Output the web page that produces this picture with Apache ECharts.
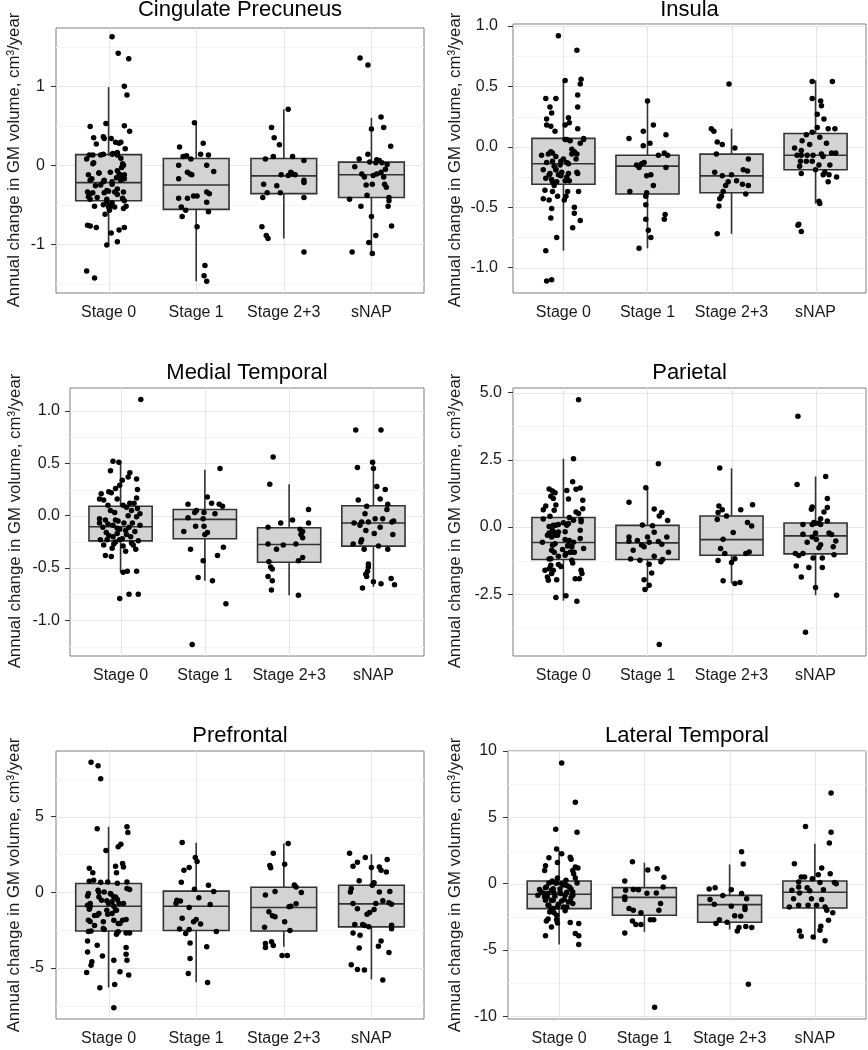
<!DOCTYPE html>
<html lang="en">
<head>
<meta charset="UTF-8">
<title>Annual change in GM volume by stage</title>
<script src="https://cdn.jsdelivr.net/npm/echarts/dist/echarts.min.js"></script>
<style>
  html, body { margin: 0; padding: 0; background: #fff; }
  #chart { width: 868px; height: 1050px; }
</style>
</head>
<body>
<div id="chart"></div>
<script>
var categories = ['Stage 0', 'Stage 1', 'Stage 2+3', 'sNAP'];

// box stats per group: [lower whisker, Q1, median, Q3, upper whisker]
var cingBox = [[-1.01, -0.45, -0.22, 0.135, 0.99], [-1.47, -0.56, -0.25, 0.085, 0.54], [-0.93, -0.36, -0.135, 0.085, 0.71], [-1.12, -0.41, -0.12, 0.04, 0.6]];
var insulaBox = [[-0.86, -0.31, -0.14, 0.07, 0.55], [-0.84, -0.39, -0.16, -0.07, 0.38], [-0.72, -0.38, -0.24, -0.06, 0.15], [-0.47, -0.19, -0.07, 0.11, 0.55]];
var medialBox = [[-0.54, -0.24, -0.105, 0.09, 0.52], [-0.62, -0.22, -0.035, 0.06, 0.44], [-0.76, -0.445, -0.275, -0.115, 0.3], [-0.68, -0.29, -0.07, 0.095, 0.5]];
var parietalBox = [[-2.74, -1.21, -0.58, 0.35, 2.54], [-2.33, -1.21, -0.59, 0.06, 1.46], [-2.1, -1.05, -0.47, 0.41, 2.18], [-2.54, -1.0, -0.33, 0.15, 1.88]];
var prefrontalBox = [[-6.3, -2.56, -0.93, 0.57, 4.32], [-5.95, -2.53, -0.93, 0.07, 3.26], [-3.6, -2.56, -1.01, 0.33, 3.22], [-5.77, -2.29, -0.77, 0.46, 2.51]];
var lateralBox = [[-4.59, -1.88, -0.8, 0.2, 2.5], [-3.63, -2.38, -1.03, -0.3, 1.58], [-3.46, -2.91, -1.58, -0.88, 1.45], [-4.21, -1.83, -0.65, 0.2, 3.01]];

// jittered subjects: [horizontal jitter, annual change]
var cingS0 = [[0.04,1.63],[0.11,1.42],[0.23,1.35],[0.18,1.0],[0.21,0.89],[-0.21,0.49],[-0.03,0.53],[0.18,0.5],[0.24,0.43],[-0.17,0.35],[-0.06,0.36],[-0.05,0.34],[0.03,0.34],[-0.14,0.27],[0.08,0.29],[0.12,0.28],[0.14,0.29],[0.19,0.21],[-0.22,0.13],[-0.18,0.13],[-0.09,0.13],[-0.06,0.14],[0.05,0.15],[0.1,0.13],[0.14,0.09],[-0.25,0.08],[-0.18,0.02],[0.17,0.0],[0.15,-0.03],[-0.23,-0.12],[-0.11,-0.1],[0.02,-0.09],[0.12,-0.11],[0.18,-0.12],[-0.21,-0.19],[-0.06,-0.21],[0.09,-0.16],[0.14,-0.19],[0.18,-0.17],[0.04,-0.24],[-0.09,-0.25],[-0.24,-0.34],[-0.21,-0.36],[-0.18,-0.35],[-0.05,-0.35],[0,-0.33],[0.07,-0.34],[0.1,-0.37],[-0.23,-0.4],[-0.13,-0.41],[-0.21,-0.43],[-0.02,-0.43],[0.18,-0.45],[0.16,-0.42],[0.04,-0.48],[-0.16,-0.52],[-0.06,-0.5],[0.02,-0.52],[0.07,-0.53],[0.2,-0.52],[-0.04,-0.62],[0.01,-0.57],[-0.24,-0.76],[-0.21,-0.77],[-0.14,-0.79],[0.18,-0.79],[0.12,-0.82],[0.03,-0.86],[-0.02,-1.01],[0.1,-0.97],[-0.25,-1.34],[-0.16,-1.43],
  [0.04,0.14],[0.1,0.16],[-0.17,0.03],[0.16,0.02],[-0.11,-0.1],[0.1,-0.07],[0.14,-0.13],[-0.19,-0.17],[-0.05,-0.19],[0.04,-0.21],[-0.15,-0.26],[-0.02,-0.32],[0.1,-0.3],[0.17,-0.34],[-0.02,-0.47],[0,-0.53],[0.17,-0.55]];
var cingS1 = [[-0.02,0.54],[0.08,0.28],[-0.19,0.23],[0.05,0.14],[0.14,0.13],[-0.15,0.11],[-0.11,0.12],[-0.06,0.08],[-0.2,0.0],[0.12,0.0],[0.2,-0.08],[-0.1,-0.09],[-0.07,-0.11],[-0.05,-0.12],[-0.2,-0.17],[0.12,-0.34],[0.15,-0.36],[-0.03,-0.39],[0.01,-0.39],[-0.2,-0.42],[-0.1,-0.42],[0.12,-0.47],[-0.17,-0.53],[-0.12,-0.57],[0.14,-0.59],[-0.16,-0.65],[0.01,-0.78],[0.1,-1.27],[0.09,-1.4],[0.12,-1.47]];
var cingS2 = [[0.05,0.71],[-0.14,0.48],[-0.11,0.35],[-0.05,0.26],[-0.21,0.08],[-0.12,0.11],[0.1,0.11],[0.23,0.06],[-0.03,-0.12],[0.08,-0.09],[0.1,-0.11],[0.05,-0.13],[0.13,-0.12],[-0.23,-0.24],[0.23,-0.19],[0.23,-0.22],[-0.19,-0.35],[-0.08,-0.26],[-0.04,-0.35],[-0.24,-0.41],[0.23,-0.41],[-0.25,-0.78],[-0.2,-0.89],[-0.18,-0.93],[0.23,-1.1]];
var cingSnap = [[-0.13,1.36],[-0.04,1.27],[0.11,0.61],[0.14,0.48],[0,0.46],[0.22,0.24],[-0.04,0.14],[-0.14,0.08],[0.06,0.07],[0.09,0.06],[-0.02,0.04],[0.18,0.01],[-0.19,-0.02],[0.05,0.03],[0.12,0.03],[-0.11,-0.11],[-0.08,-0.15],[0.02,-0.13],[0.06,-0.11],[0.11,-0.09],[0.14,-0.15],[0.16,-0.05],[-0.06,-0.25],[0.01,-0.24],[0.15,-0.24],[0.17,-0.28],[-0.05,-0.38],[0.2,-0.41],[-0.25,-0.43],[0.2,-0.45],[-0.12,-0.52],[0.19,-0.52],[0,-0.65],[0.23,-0.77],[0.05,-0.89],[-0.03,-0.98],[-0.22,-1.1],[0.01,-1.12]];

var insulaS0 = [[-0.06,0.92],[0.16,0.8],[0.02,0.55],[0.21,0.56],[0.2,0.52],[0.17,0.43],[-0.21,0.4],[-0.09,0.4],[0.17,0.33],[-0.16,0.33],[-0.14,0.28],[0.06,0.24],[-0.2,0.23],[0.07,0.2],[-0.2,0.18],[-0.15,0.17],[0.02,0.18],[-0.1,0.13],[0.17,0.15],[0.24,0.07],[0.04,0.06],[0.08,0.05],[0.2,0.03],[0.1,-0.02],[0.13,-0.04],[0.16,-0.06],[-0.15,-0.04],[-0.18,-0.06],[-0.26,-0.07],[-0.09,-0.08],[0,-0.1],[0.15,-0.1],[-0.2,-0.13],[-0.13,-0.12],[-0.03,-0.12],[-0.11,-0.16],[0.06,-0.14],[-0.24,-0.19],[-0.09,-0.19],[-0.16,-0.22],[0.17,-0.22],[-0.06,-0.23],[-0.03,-0.24],[-0.21,-0.26],[-0.14,-0.27],[0.04,-0.25],[0.07,-0.28],[-0.08,-0.29],[-0.11,-0.32],[-0.22,-0.36],[-0.13,-0.37],[0.05,-0.37],[0.18,-0.37],[-0.07,-0.41],[0.03,-0.41],[-0.24,-0.43],[-0.17,-0.44],[0.01,-0.44],[-0.14,-0.51],[0.13,-0.5],[0.13,-0.55],[0.2,-0.61],[-0.15,-0.59],[0.11,-0.67],[-0.08,-0.75],[-0.21,-0.86],[-0.2,-1.11],[-0.14,-1.1],
  [-0.13,-0.05],[0.1,-0.06],[0.24,0.06],[0.02,0.06],[-0.04,-0.15],[0.04,-0.13],[-0.09,-0.19],[-0.02,-0.21],[0.06,-0.22],[-0.17,-0.23],[0.02,-0.28],[-0.13,-0.29],[0.16,-0.21]];
var insulaS1 = [[0,0.38],[0.07,0.18],[-0.05,0.13],[-0.22,0.07],[0.22,0.1],[-0.05,0.01],[0.03,0.03],[0.13,-0.07],[0.2,-0.05],[0.24,-0.07],[-0.04,-0.13],[-0.07,-0.14],[-0.13,-0.15],[-0.1,-0.17],[0.22,-0.17],[0.04,-0.23],[-0.01,-0.24],[0.07,-0.32],[-0.21,-0.37],[-0.01,-0.38],[-0.02,-0.41],[-0.02,-0.48],[0.21,-0.56],[0.2,-0.6],[-0.02,-0.6],[0.01,-0.69],[0.04,-0.75],[-0.1,-0.84]];
var insulaS2 = [[-0.03,0.52],[-0.24,0.15],[-0.21,0.13],[-0.17,0.04],[-0.11,0.02],[0.04,-0.01],[-0.18,-0.06],[0.2,-0.1],[-0.2,-0.21],[0.14,-0.19],[0.19,-0.2],[-0.11,-0.24],[0,-0.23],[-0.04,-0.29],[0.06,-0.28],[-0.07,-0.32],[0.13,-0.31],[0.2,-0.32],[0.17,-0.39],[-0.1,-0.37],[-0.14,-0.43],[-0.12,-0.41],[-0.15,-0.49],[-0.17,-0.72]];
var insulaSnap = [[-0.04,0.54],[0.2,0.54],[-0.04,0.4],[0.06,0.38],[0.07,0.34],[0.02,0.27],[0.1,0.23],[0.02,0.16],[0.15,0.15],[0.23,0.15],[-0.04,0.12],[-0.11,0.1],[-0.16,0.05],[-0.07,0.02],[0.05,0.08],[0.13,0.03],[-0.25,-0.01],[-0.17,-0.03],[-0.22,-0.07],[-0.17,-0.07],[-0.1,-0.07],[-0.03,-0.07],[0.07,-0.06],[0.19,-0.05],[0.24,-0.05],[0.09,-0.08],[-0.18,-0.12],[-0.11,-0.12],[-0.04,-0.12],[-0.19,-0.16],[0.04,-0.15],[0.17,-0.15],[0,-0.19],[0.11,-0.21],[-0.17,-0.22],[0.16,-0.23],[0.09,-0.23],[0.25,-0.25],[0.15,-0.29],[0.04,-0.45],[0.05,-0.47],[-0.2,-0.64],[-0.21,-0.65],[-0.17,-0.7]];

var medialS0 = [[0.24,1.11],[-0.09,0.52],[-0.02,0.51],[-0.12,0.43],[0.11,0.41],[0.09,0.37],[0.02,0.34],[0.19,0.35],[-0.01,0.29],[-0.06,0.26],[-0.14,0.23],[0.2,0.25],[-0.23,0.21],[-0.11,0.22],[-0.25,0.16],[-0.2,0.15],[-0.04,0.16],[0.19,0.17],[0.11,0.12],[0.16,0.12],[-0.15,0.1],[0.03,0.1],[0.07,0.08],[0.2,0.07],[0.13,0.05],[-0.12,0.05],[-0.07,0.03],[0.23,0.02],[0.19,-0.01],[-0.25,-0.03],[-0.06,-0.04],[0.04,-0.07],[0.14,-0.07],[-0.25,-0.07],[-0.15,-0.08],[-0.09,-0.09],[0.23,-0.09],[-0.21,-0.11],[0.1,-0.11],[-0.01,-0.13],[0.17,-0.15],[-0.17,-0.16],[-0.04,-0.17],[0.07,-0.18],[-0.09,-0.2],[-0.24,-0.23],[-0.16,-0.23],[-0.01,-0.23],[0.21,-0.24],[-0.06,-0.25],[0.13,-0.26],[-0.2,-0.28],[0.03,-0.29],[-0.1,-0.31],[0.18,-0.32],[0.06,-0.34],[-0.18,-0.38],[-0.11,-0.39],[0.03,-0.54],[0.08,-0.53],[0.19,-0.53],[-0.01,-0.79],[0.1,-0.75],[0.21,-0.75],
  [-0.04,-0.12],[0.06,-0.14],[-0.14,-0.19],[0.12,-0.2],[0.02,-0.22],[-0.08,-0.27],[0.15,-0.28],[-0.03,-0.05],[0.09,0.0],[-0.18,-0.04]];
var medialS1 = [[0.18,0.45],[0.03,0.18],[-0.2,0.11],[0.08,0.12],[0.17,0.11],[0.21,0.09],[-0.1,0.05],[-0.12,0.03],[-0.01,0.03],[0.12,0.02],[-0.2,-0.02],[-0.02,-0.03],[-0.11,-0.1],[-0.01,-0.1],[-0.25,-0.15],[0.03,-0.16],[0,-0.18],[0.22,-0.3],[-0.17,-0.32],[0.15,-0.38],[-0.02,-0.43],[-0.08,-0.59],[0.09,-0.62],[0.25,-0.84],[-0.15,-1.23]];
var medialS2 = [[-0.19,0.56],[-0.23,0.3],[0.23,0.06],[0.04,-0.04],[-0.1,-0.07],[0.23,-0.07],[-0.25,-0.11],[0.13,-0.13],[0.16,-0.15],[0.14,-0.18],[0.16,-0.21],[-0.25,-0.27],[-0.07,-0.28],[0.08,-0.27],[-0.15,-0.32],[0.16,-0.4],[0.11,-0.43],[-0.24,-0.44],[-0.22,-0.49],[-0.2,-0.51],[-0.25,-0.58],[-0.2,-0.62],[-0.21,-0.71],[0.11,-0.76]];
var medialSnap = [[-0.21,0.82],[0.09,0.82],[-0.01,0.51],[-0.19,0.46],[0,0.45],[0.04,0.28],[0.14,0.25],[-0.18,0.15],[0.08,0.16],[0.17,0.11],[-0.08,0.09],[0.16,0.06],[-0.1,0.02],[0.02,-0.03],[0.11,-0.03],[0.24,-0.05],[-0.23,-0.07],[-0.14,-0.06],[-0.06,-0.06],[0.22,-0.06],[-0.16,-0.09],[0.08,-0.11],[-0.09,-0.14],[0.01,-0.17],[0.23,-0.18],[-0.14,-0.23],[-0.15,-0.25],[-0.24,-0.27],[0.06,-0.29],[-0.11,-0.32],[0.17,-0.32],[-0.06,-0.46],[-0.06,-0.49],[-0.07,-0.53],[-0.09,-0.56],[-0.08,-0.58],[0.21,-0.6],[0,-0.63],[0.09,-0.65],[0.25,-0.66],[-0.13,-0.69]];

var parietalS0 = [[0.18,4.73],[0.12,2.54],[0.11,1.68],[-0.17,1.41],[-0.13,1.34],[-0.1,1.27],[0.04,1.36],[0.15,1.4],[0.2,1.45],[-0.15,1.14],[-0.12,1.06],[0.06,1.04],[0.23,0.99],[-0.21,0.78],[-0.09,0.82],[0.23,0.68],[-0.24,0.64],[-0.11,0.62],[0.15,0.56],[0.18,0.5],[-0.16,0.4],[-0.24,0.3],[0.07,0.35],[0.12,0.25],[0.21,0.28],[0,0.16],[-0.06,0.09],[-0.17,0.02],[-0.12,0.06],[0.21,0.19],[0.04,0.06],[-0.12,-0.19],[-0.17,-0.22],[-0.06,-0.19],[-0.09,-0.31],[-0.14,-0.37],[0.2,-0.43],[0.02,-0.47],[0.07,-0.5],[-0.25,-0.57],[-0.1,-0.62],[0.12,-0.57],[0.05,-0.71],[0.1,-0.74],[0.24,-0.8],[-0.01,-0.84],[-0.14,-0.87],[0.08,-0.94],[0.13,-0.94],[0.03,-0.99],[-0.11,-0.94],[-0.06,-1.09],[-0.17,-1.19],[0.1,-1.24],[0.11,-1.34],[-0.15,-1.42],[-0.06,-1.4],[-0.03,-1.47],[-0.17,-1.55],[-0.22,-1.61],[-0.12,-1.61],[0.21,-1.61],[0.22,-1.73],[-0.14,-1.73],[-0.19,-1.86],[-0.18,-1.98],[-0.08,-1.96],[0.14,-1.93],[0.19,-1.93],[-0.09,-2.62],[0.03,-2.56],[0.16,-2.76],
  [-0.09,0.06],[-0.13,-0.12],[0.02,-0.18],[-0.19,-0.31],[-0.07,-0.31],[0.06,0.13],[0.2,-0.12],[-0.13,-0.68],[0.06,-0.68],[0.1,-0.93],[0.02,-1.05],[-0.15,-1.18]];
var parietalS1 = [[0.13,2.35],[-0.02,1.46],[-0.22,0.92],[0.08,0.67],[0.17,0.54],[0.14,0.41],[0.24,0.24],[-0.06,0.07],[0.06,0.05],[0.08,-0.2],[0,-0.37],[0.23,-0.37],[-0.22,-0.37],[-0.12,-0.5],[-0.22,-0.53],[0.02,-0.57],[0.13,-0.54],[-0.07,-0.67],[-0.04,-0.74],[0.17,-0.64],[-0.17,-0.87],[0.25,-0.94],[0.08,-1.09],[0.18,-1.21],[0.16,-1.29],[-0.2,-1.19],[-0.09,-1.24],[0.02,-1.39],[0.05,-1.71],[-0.04,-1.96],[0.02,-2.17],[-0.03,-2.33],[0.14,-4.37]];
var parietalS2 = [[-0.14,2.19],[-0.15,0.78],[-0.11,0.64],[0.25,0.83],[0.11,0.64],[-0.16,0.54],[-0.06,0.41],[-0.17,0.28],[0.19,0.17],[0.24,0.04],[0.02,-0.21],[-0.1,-0.46],[-0.13,-0.8],[-0.08,-0.99],[0.21,-0.93],[0.17,-0.99],[0.04,-1.18],[-0.16,-1.25],[0,-1.32],[-0.1,-2.0],[0.04,-2.1],[0.1,-2.07]];
var parietalSnap = [[-0.21,4.12],[0.12,1.88],[-0.22,1.58],[0.14,1.06],[-0.04,0.74],[0.14,0.72],[-0.05,0.66],[0.1,0.56],[0.06,0.31],[0.14,0.22],[-0.02,0.17],[-0.15,0.09],[0,0.14],[0.04,0.15],[0.06,0.09],[-0.04,0.09],[0.16,-0.22],[0.19,-0.28],[-0.15,-0.27],[0,-0.22],[-0.1,-0.57],[0.01,-0.47],[-0.04,-0.37],[0.24,-0.52],[0.06,-0.66],[0.04,-0.77],[0.21,-0.74],[-0.24,-0.99],[-0.15,-0.99],[-0.2,-1.06],[0.22,-1.03],[-0.03,-1.15],[0.08,-1.15],[-0.23,-1.45],[-0.08,-1.51],[0.08,-1.51],[-0.17,-1.86],[0,-2.25],[0.25,-2.54],[-0.12,-3.92]];

var prefrontalS0 = [[-0.2,8.59],[-0.12,8.35],[-0.09,7.49],[-0.13,4.19],[0.21,4.32],[0.22,3.94],[-0.03,2.75],[0.14,3.17],[0.11,3.0],[0.16,1.89],[0.08,1.72],[0.17,1.67],[-0.22,1.59],[0.09,1.28],[-0.18,1.28],[-0.22,0.73],[-0.17,0.79],[-0.09,0.66],[-0.01,0.68],[0.1,0.59],[0.21,0.68],[0.21,0.24],[0.24,0.18],[-0.12,0.13],[-0.05,0.02],[-0.24,-0.26],[-0.11,-0.31],[0.03,-0.13],[0.06,-0.31],[-0.08,-0.53],[-0.02,-0.57],[0.04,-0.64],[0.1,-0.48],[0.12,-0.75],[-0.24,-0.86],[-0.21,-0.97],[-0.22,-1.12],[0.06,-0.93],[0.08,-1.19],[-0.11,-1.41],[-0.01,-1.45],[-0.16,-1.54],[-0.23,-1.85],[-0.21,-1.94],[0.06,-1.85],[0.16,-1.85],[0.2,-1.81],[-0.16,-2.2],[0.13,-2.07],[-0.05,-2.47],[-0.23,-2.6],[-0.2,-2.56],[0.09,-2.78],[0.1,-2.67],[0.2,-2.69],[0.24,-2.69],[-0.24,-3.22],[-0.13,-3.5],[0.2,-3.66],[-0.24,-3.96],[0.2,-4.1],[-0.07,-4.21],[-0.19,-4.6],[-0.2,-4.82],[0.06,-4.49],[0.21,-4.49],[0.13,-5.26],[-0.25,-5.31],[0.23,-5.48],[-0.1,-6.32],[0.07,-6.1],[0.06,-7.64],
  [-0.23,-0.09],[-0.11,0.0],[0.02,-0.09],[0.08,-0.31],[-0.21,-0.75],[0,-0.75],[0.17,-0.75],[-0.02,-1.19],[0.09,-1.19],[-0.13,-1.52],[0.04,-1.41],[-0.06,-1.96],[0.11,-2.07],[-0.06,-2.4],[0.11,-2.62]];
var prefrontalS1 = [[-0.16,3.28],[-0.01,2.29],[0.01,2.03],[-0.08,1.63],[-0.14,1.45],[-0.17,0.66],[0.14,0.46],[-0.02,0.2],[0.2,0.04],[0.03,-0.37],[-0.22,-0.53],[-0.18,-0.59],[-0.23,-0.75],[0.16,-0.81],[-0.08,-1.01],[-0.16,-1.72],[0,-1.81],[-0.03,-1.96],[0.05,-2.11],[-0.19,-2.44],[-0.08,-2.47],[0.23,-2.6],[-0.12,-2.73],[-0.07,-3.35],[0.12,-3.61],[-0.07,-4.38],[-0.09,-5.37],[0.13,-5.97]];
var prefrontalS2 = [[0.05,3.22],[-0.12,2.58],[-0.16,1.76],[-0.15,1.61],[0.01,1.85],[0.12,0.48],[0.14,0.35],[0.2,-0.02],[-0.1,0.04],[-0.21,-0.18],[0.14,-0.77],[0.06,-0.97],[0.08,-0.93],[-0.17,-1.3],[-0.13,-1.56],[-0.1,-1.63],[0.01,-1.96],[0.07,-2.53],[-0.22,-2.31],[-0.14,-3.28],[-0.21,-3.39],[-0.12,-3.52],[-0.21,-3.66],[-0.02,-4.19],[0.04,-4.19]];
var prefrontalSnap = [[-0.25,2.58],[-0.07,2.29],[0.18,2.16],[-0.16,1.98],[-0.21,1.72],[0,1.63],[0.09,1.67],[0.11,1.45],[0.17,1.34],[-0.14,0.75],[0.03,0.62],[0.01,0.46],[-0.23,0.24],[-0.24,0.02],[0.09,0.02],[0.21,0.04],[-0.21,-0.75],[0.05,-0.75],[0.13,-0.57],[0.2,-0.7],[0.23,-0.79],[-0.16,-1.1],[-0.02,-1.34],[-0.05,-1.45],[0.03,-1.15],[-0.19,-2.14],[-0.1,-2.14],[-0.08,-2.2],[-0.03,-2.29],[0.23,-2.18],[0.23,-2.42],[-0.21,-2.69],[-0.13,-2.84],[0.11,-3.22],[0.08,-3.57],[-0.14,-3.68],[0.2,-3.99],[-0.23,-4.8],[-0.16,-5.11],[-0.08,-5.15],[0.13,-5.81]];

var lateralS0 = [[0.03,9.1],[0.19,6.14],[-0.04,4.11],[0.21,3.88],[-0.03,2.61],[0.03,2.26],[-0.12,1.95],[0.13,2.0],[0.14,1.85],[-0.02,1.6],[-0.16,1.35],[0.19,1.25],[0.22,1.18],[-0.17,1.0],[0.16,1.0],[0.17,0.75],[-0.02,0.43],[0.19,0.43],[-0.08,0.2],[0.08,0.25],[-0.12,0.05],[-0.04,0.05],[0.05,-0.1],[0.21,0.05],[-0.23,-0.43],[-0.16,-0.3],[-0.09,-0.5],[0.01,-0.4],[0.14,-0.4],[-0.25,-0.88],[-0.18,-0.75],[-0.14,-1.0],[-0.06,-0.68],[0.02,-0.75],[0.09,-0.65],[0.16,-0.88],[-0.16,-1.25],[-0.07,-1.25],[0.06,-1.2],[0.13,-1.35],[-0.12,-1.63],[-0.02,-1.75],[0.09,-1.75],[-0.09,-1.95],[0.07,-2.05],[-0.06,-2.2],[-0.13,-2.66],[-0.15,-2.81],[-0.03,-2.71],[-0.02,-2.96],[0.13,-2.93],[0.23,-3.0],[-0.09,-3.26],[-0.16,-3.93],[0.19,-3.76],[0.23,-3.93],[0.23,-4.59],
  [-0.09,0.12],[-0.03,0.05],[0.03,0.0],[0.09,-0.13],[-0.15,-0.25],[-0.07,-0.38],[0.12,-0.25],[-0.21,-0.63],[-0.13,-0.75],[0.01,-0.7],[0.16,-0.63],[-0.17,-1.0],[-0.05,-0.95],[0.07,-0.88],[0.14,-1.05],[-0.09,-1.25],[0.03,-1.3],[0.11,-1.38],[-0.13,-1.63],[-0.01,-1.55],[0.16,-1.5],[-0.07,-1.88],[0.05,-1.75],[-0.11,-2.13],[-0.03,-2.38]];
var lateralS1 = [[-0.14,1.65],[0.15,1.13],[0.04,1.03],[0.23,0.48],[-0.23,0.2],[0.22,-0.25],[-0.13,-0.43],[-0.07,-0.45],[-0.22,-0.5],[0.03,-0.73],[0.14,-0.7],[-0.23,-1.0],[-0.23,-1.2],[0.19,-1.5],[0.17,-2.0],[-0.18,-1.88],[-0.13,-2.0],[-0.04,-2.2],[0.07,-2.71],[0.11,-2.71],[-0.14,-2.81],[-0.1,-3.08],[-0.04,-3.08],[-0.23,-3.71],[0.12,-9.32]];
var lateralS2 = [[0.14,2.41],[0.16,1.48],[-0.17,-0.3],[-0.24,-0.4],[0.02,-0.45],[0.14,-0.75],[-0.23,-1.2],[-0.08,-0.9],[0.2,-1.13],[-0.18,-1.55],[0.02,-1.7],[0.18,-1.75],[0.18,-1.95],[-0.12,-2.71],[-0.03,-2.91],[-0.16,-3.0],[0.06,-2.41],[0.13,-2.46],[0.11,-3.31],[0.19,-3.23],[0.26,-3.31],[0.09,-3.56],[0.22,-7.59]];
var lateralSnap = [[0.19,6.84],[-0.11,4.31],[0.19,3.88],[0.17,3.06],[-0.24,1.5],[0.08,1.18],[0.18,0.75],[0.04,0.68],[-0.12,0.5],[-0.16,0.5],[-0.03,0.38],[-0.19,0.13],[0.06,0.08],[0.23,0.08],[0.25,0.0],[-0.09,-0.3],[-0.19,-0.25],[-0.27,-0.5],[-0.18,-0.7],[-0.06,-0.53],[0.1,-0.45],[-0.25,-1.13],[-0.04,-1.13],[0.08,-1.2],[-0.19,-1.63],[-0.08,-1.63],[0.02,-1.63],[-0.3,-1.75],[0.12,-1.75],[0.14,-2.0],[0.21,-2.2],[0.16,-2.76],[0.07,-3.21],[0.06,-3.51],[-0.18,-3.56],[-0.16,-3.96],[-0.02,-4.01],[0.12,-4.31]];

// axis ticks and their printed labels
var cingTicks = [-1, 0, 1], cingTickText = ['-1', '0', '1'], cingMinor = [-1.5, -0.5, 0.5, 1.5];
var insulaTicks = [-1, -0.5, 0, 0.5, 1], insulaTickText = ['-1.0', '-0.5', '0.0', '0.5', '1.0'], insulaMinor = [-0.75, -0.25, 0.25, 0.75];
var medialTicks = [-1, -0.5, 0, 0.5, 1], medialTickText = ['-1.0', '-0.5', '0.0', '0.5', '1.0'], medialMinor = [-1.25, -0.75, -0.25, 0.25, 0.75];
var parietalTicks = [-2.5, 0, 2.5, 5], parietalTickText = ['-2.5', '0.0', '2.5', '5.0'], parietalMinor = [-3.75, -1.25, 1.25, 3.75];
var prefrontalTicks = [-5, 0, 5], prefrontalTickText = ['-5', '0', '5'], prefrontalMinor = [-7.5, -2.5, 2.5, 7.5];
var lateralTicks = [-10, -5, 0, 5, 10], lateralTickText = ['-10', '-5', '0', '5', '10'], lateralMinor = [-7.5, -2.5, 2.5, 7.5];

var FONT = '"Liberation Sans", Arial, Helvetica, sans-serif';
var yName = 'Annual change in GM volume, cm\u00b3/year';

var panels = [
  { title: 'Cingulate Precuneus', box: cingBox, pts: [cingS0, cingS1, cingS2, cingSnap], ticks: cingTicks, text: cingTickText, minor: cingMinor,
    yMin: -1.62, yMax: 1.74, left: 56, top: 28, width: 368, height: 265, margin: 11, titleY: 10, nameX: 14.5, nameY: 160 },
  { title: 'Insula', box: insulaBox, pts: [insulaS0, insulaS1, insulaS2, insulaSnap], ticks: insulaTicks, text: insulaTickText, minor: insulaMinor,
    yMin: -1.21, yMax: 1.017, left: 513, top: 24, width: 353, height: 269, margin: 15, titleY: 10, nameX: 455.5, nameY: 160 },
  { title: 'Medial Temporal', box: medialBox, pts: [medialS0, medialS1, medialS2, medialSnap], ticks: medialTicks, text: medialTickText, minor: medialMinor,
    yMin: -1.34, yMax: 1.22, left: 70, top: 388, width: 354, height: 268, margin: 10, titleY: 373, nameX: 15, nameY: 521 },
  { title: 'Parietal', box: parietalBox, pts: [parietalS0, parietalS1, parietalS2, parietalSnap], ticks: parietalTicks, text: parietalTickText, minor: parietalMinor,
    yMin: -4.8, yMax: 5.17, left: 513, top: 388, width: 353, height: 268, margin: 11, titleY: 373, nameX: 455.5, nameY: 521 },
  { title: 'Prefrontal', box: prefrontalBox, pts: [prefrontalS0, prefrontalS1, prefrontalS2, prefrontalSnap], ticks: prefrontalTicks, text: prefrontalTickText, minor: prefrontalMinor,
    yMin: -8.38, yMax: 9.33, left: 56, top: 751, width: 368, height: 268, margin: 12, titleY: 736, nameX: 14.5, nameY: 885 },
  { title: 'Lateral Temporal', box: lateralBox, pts: [lateralS0, lateralS1, lateralS2, lateralSnap], ticks: lateralTicks, text: lateralTickText, minor: lateralMinor,
    yMin: -10.2, yMax: 10.0, left: 508, top: 751, width: 358, height: 268, margin: 11, titleY: 736, nameX: 455.5, nameY: 885 }
];

// gridlines: [0 = horizontal / 1 = vertical, value, 1 = minor]
function renderGridLine(params, api) {
  var cs = params.coordSys;
  var color = api.value(2) === 1 ? '#f4f4f4' : '#e6e6e6';
  if (api.value(0) === 1) {
    var x = Math.round(api.coord([api.value(1), 0])[0]) + 0.5;
    return { type: 'line', shape: { x1: x, y1: cs.y, x2: x, y2: cs.y + cs.height }, style: { stroke: color, lineWidth: 1 } };
  }
  var y = Math.round(api.coord([1, api.value(1)])[1]) + 0.5;
  return { type: 'line', shape: { x1: cs.x, y1: y, x2: cs.x + cs.width, y2: y }, style: { stroke: color, lineWidth: 1 } };
}

// ggplot-like box: no whisker caps
function renderBox(params, api) {
  var x = api.value(0);
  var lo = api.coord([x, api.value(1)]);
  var q1 = api.coord([x, api.value(2)]);
  var med = api.coord([x, api.value(3)]);
  var q3 = api.coord([x, api.value(4)]);
  var hi = api.coord([x, api.value(5)]);
  var half = api.size([0.75, 0])[0] / 2;
  var line = { stroke: '#333', lineWidth: 1.6 };
  return {
    type: 'group',
    children: [
      { type: 'line', shape: { x1: lo[0], y1: lo[1], x2: q1[0], y2: q1[1] }, style: line },
      { type: 'line', shape: { x1: hi[0], y1: hi[1], x2: q3[0], y2: q3[1] }, style: line },
      { type: 'rect', shape: { x: q3[0] - half, y: q3[1], width: half * 2, height: q1[1] - q3[1] },
        style: { fill: '#d3d3d3', stroke: '#333', lineWidth: 1.6 } },
      { type: 'line', shape: { x1: med[0] - half, y1: med[1], x2: med[0] + half, y2: med[1] }, style: line }
    ]
  };
}

var option = { animation: false, backgroundColor: '#fff', grid: [], xAxis: [], yAxis: [], series: [], graphic: [] };

panels.forEach(function (p, i) {
  option.grid.push({ left: p.left, top: p.top, width: p.width, height: p.height, show: true,
    borderColor: '#7f7f7f', borderWidth: 1, backgroundColor: '#fff' });

  option.xAxis.push({
    type: 'value', gridIndex: i, min: 0.4, max: 4.6,
    axisLine: { show: false }, splitLine: { show: false },
    axisTick: { show: true, customValues: [1, 2, 3, 4], length: 5, lineStyle: { color: '#333', width: 1 } },
    axisLabel: { customValues: [1, 2, 3, 4], margin: 12, color: '#1a1a1a', fontSize: 16, fontFamily: FONT,
      formatter: function (v) { return categories[Math.round(v) - 1]; } }
  });

  option.yAxis.push({
    type: 'value', gridIndex: i, min: p.yMin, max: p.yMax,
    axisLine: { show: false }, splitLine: { show: false },
    axisTick: { show: true, customValues: p.ticks, length: 5, lineStyle: { color: '#333', width: 1 } },
    axisLabel: { customValues: p.ticks, margin: p.margin, color: '#1a1a1a', fontSize: 16, fontFamily: FONT,
      formatter: function (v) {
        for (var k = 0; k < p.ticks.length; k++) { if (Math.abs(p.ticks[k] - v) < 1e-9) return p.text[k]; }
        return '';
      } }
  });

  var lines = [];
  p.minor.forEach(function (v) { lines.push([0, v, 1]); });
  p.ticks.forEach(function (v) { lines.push([0, v, 0]); });
  categories.forEach(function (c, k) { lines.push([1, k + 1, 0]); });
  option.series.push({ type: 'custom', xAxisIndex: i, yAxisIndex: i, silent: true, z: 1,
    renderItem: renderGridLine, data: lines });

  option.series.push({ type: 'custom', xAxisIndex: i, yAxisIndex: i, silent: true, z: 2,
    encode: { x: 0, y: [1, 2, 3, 4, 5] }, renderItem: renderBox,
    data: p.box.map(function (b, k) { return [k + 1].concat(b); }) });

  var dots = [];
  p.pts.forEach(function (grp, k) {
    grp.forEach(function (d) { dots.push([k + 1 + d[0], d[1]]); });
  });
  option.series.push({ type: 'scatter', xAxisIndex: i, yAxisIndex: i, silent: true, z: 3,
    symbolSize: 5.5, itemStyle: { color: '#000', opacity: 1 }, data: dots });

  option.graphic.push({ type: 'text', x: p.left + p.width / 2, y: p.titleY, silent: true,
    style: { text: p.title, font: '22px ' + FONT, fill: '#000', textAlign: 'center', textVerticalAlign: 'middle' } });
  option.graphic.push({ type: 'text', x: p.nameX, y: p.nameY, rotation: Math.PI / 2, silent: true,
    style: { text: yName, font: '16.8px ' + FONT, fill: '#1a1a1a', textAlign: 'center', textVerticalAlign: 'middle' } });
});

var chart = echarts.init(document.getElementById('chart'));
chart.setOption(option);
</script>
</body>
</html>
